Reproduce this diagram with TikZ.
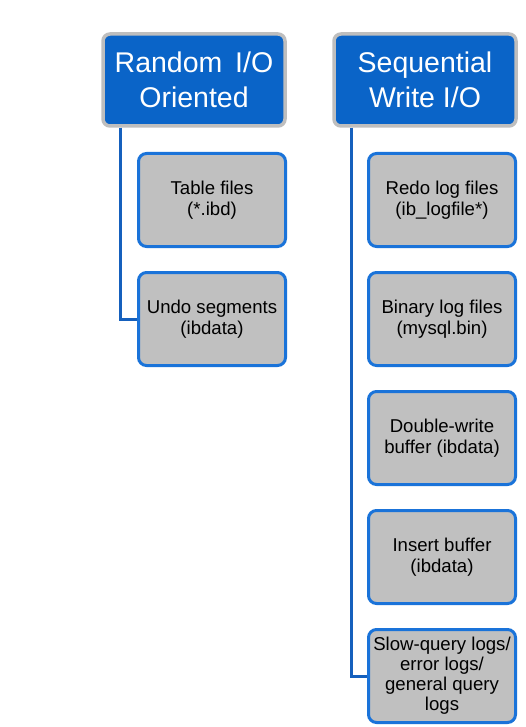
\documentclass[tikz,border=0pt]{standalone}
\usepackage{fontspec}
\setmainfont{Liberation Sans}
\usetikzlibrary{positioning}
\definecolor{headblue}{RGB}{10,100,200}
\definecolor{headrim}{RGB}{190,190,190}
\definecolor{boxblue}{RGB}{26,115,217}
\definecolor{boxgray}{RGB}{192,192,192}
\definecolor{lineblue}{RGB}{21,96,189}

\begin{document}
\begin{tikzpicture}[x=1pt, y=1pt, node distance = 119pt and 18pt, on grid,
    head/.style={rectangle, rounded corners=7pt, fill=headblue, draw=headrim, line width=3.5pt, text=white, minimum width=182pt, minimum height=92pt, align=center, font=\fontsize{28.5}{35}\selectfont},
    item/.style={rectangle, rounded corners=8pt, fill=boxgray, draw=boxblue, line width=3pt, minimum width=147pt, minimum height=93pt, align=center, font=\fontsize{18.6}{21.5}\selectfont},
    link/.style={draw=lineblue, line width=3pt}]
	\useasboundingbox (0,0) rectangle (525,-727);
	\node [head] (RandomIO) at (194,-80) {Random\hspace{0.45em}I/O\\Oriented};
	\node [head] (SeqIO) at (425,-80) {Sequential\\Write I/O};
	\node [item] (Table) [below right =120pt and 18pt of RandomIO] {Table files\\(*.ibd)};
	\node [item] (Undo) [below =of Table] {Undo segments\\(ibdata)};
	\node [item] (Redo) [below right =120pt and 17pt of SeqIO] {Redo log files\\(ib\_logfile*)};
	\node [item] (Binary) [below =of Redo] {Binary log files\\(mysql.bin)};
	\node [item] (Double) [below =of Binary] {Double-write\\buffer (ibdata)};
	\node [item] (Insert) [below =of Double] {Insert buffer\\(ibdata)};
	\node [item, font=\fontsize{18.6}{20}\selectfont] (Slow) [below =of Insert] {Slow-query logs/\\error logs/\\general query\\logs};
	\path [link] ([xshift=19pt]RandomIO.south west) |- (Undo.west);
	\path [link] ([xshift=19pt]SeqIO.south west) |- (Slow.west);
\end{tikzpicture}
\end{document}
